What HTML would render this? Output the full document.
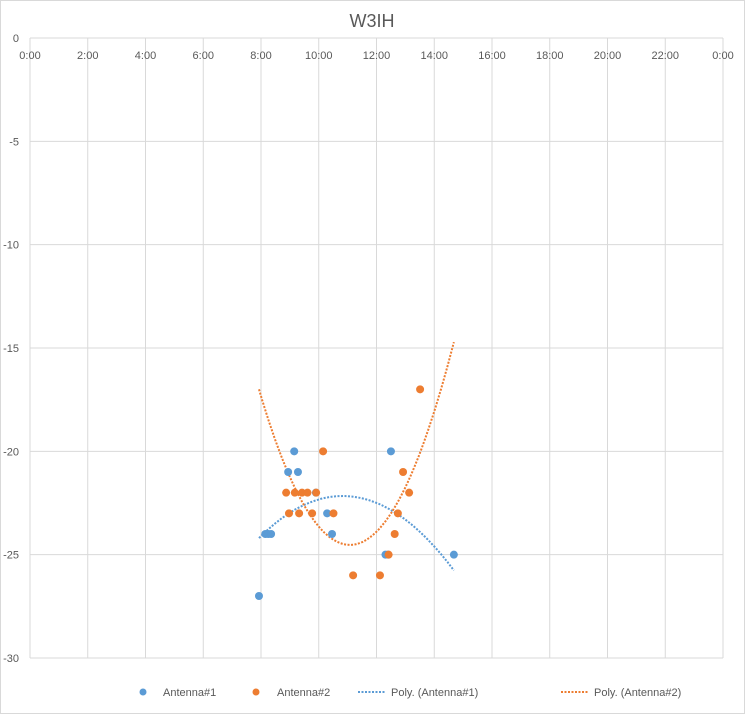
<!DOCTYPE html>
<html><head><meta charset="utf-8"><style>
body{margin:0;background:#fff;font-family:"Liberation Sans",sans-serif}
svg text{font-family:"Liberation Sans",sans-serif;fill:#595959}
</style></head><body>
<svg width="745" height="714">
<rect x="0.5" y="0.5" width="744" height="713" fill="#fff" stroke="#d9d9d9"/>
<text x="372" y="27" font-size="18" text-anchor="middle">W3IH</text>
<g id="grid"></g><g id="trend"></g><g id="pts"></g>
<g font-size="11">
<circle cx="143" cy="692" r="3.5" fill="#5b9bd5"/>
<text x="163" y="696">Antenna#1</text>
<circle cx="256" cy="692" r="3.5" fill="#ed7d31"/>
<text x="277" y="696">Antenna#2</text>
<line x1="358" y1="692" x2="385" y2="692" stroke="#5b9bd5" stroke-width="2" stroke-dasharray="2,1.5"/>
<text x="391" y="696">Poly. (Antenna#1)</text>
<line x1="561" y1="692" x2="588" y2="692" stroke="#ed7d31" stroke-width="2" stroke-dasharray="2,1.5"/>
<text x="594" y="696">Poly. (Antenna#2)</text>
</g>
</svg>
<script>
const xTicks=["0:00","2:00","4:00","6:00","8:00","10:00","12:00","14:00","16:00","18:00","20:00","22:00","0:00"];
const yTicks=[0,-5,-10,-15,-20,-25,-30];
const a1x=[9.15,8.94,9.28,10.29,10.46,8.15,8.25,8.35,7.93,12.50,12.31,12.40,14.68,9.9];
const a1y=[-20,-21,-21,-23,-24,-24,-24,-24,-27,-20,-25,-25,-25,-22];
const a2x=[13.51,10.15,12.92,8.87,9.17,9.42,9.61,9.91,13.13,8.97,9.32,9.77,10.51,12.74,12.63,12.42,11.19,12.12];
const a2y=[-17,-20,-21,-22,-22,-22,-22,-22,-22,-23,-23,-23,-23,-23,-24,-25,-26,-26];
const NS="http://www.w3.org/2000/svg";
const X0=30,X1=723,Y0=38,Y1=658;
const sx=h=>X0+h/24*(X1-X0), sy=v=>Y0+(0-v)/30*(Y1-Y0);
function mk(t,a,p){const e=document.createElementNS(NS,t);for(const k in a)e.setAttribute(k,a[k]);p.appendChild(e);return e;}
const g=document.getElementById('grid');
xTicks.forEach((t,i)=>{const x=sx(i*2);
 const l=mk('line',{x1:x,y1:Y0,x2:x,y2:Y1,stroke:'#d9d9d9'},g);
 
 
 const tx=mk('text',{x:x,y:59,'font-size':11,'text-anchor':'middle'},g);tx.textContent=t;
 
 
});
yTicks.forEach(v=>{const y=sy(v);
 const l=mk('line',{x1:X0,y1:y,x2:X1,y2:y,stroke:'#d9d9d9'},g);
 
 
 const tx=mk('text',{x:19,y:y+4,'font-size':11,'text-anchor':'end'},g);tx.textContent=v;
 
 
});
function fit2(xs,ys){let S=[0,0,0,0,0],T=[0,0,0];xs.forEach((x,i)=>{for(let k=0;k<5;k++)S[k]+=Math.pow(x,k);for(let k=0;k<3;k++)T[k]+=ys[i]*Math.pow(x,k);});
 const M=[[S[0],S[1],S[2],T[0]],[S[1],S[2],S[3],T[1]],[S[2],S[3],S[4],T[2]]];
 for(let i=0;i<3;i++){for(let j=i+1;j<3;j++){const f=M[j][i]/M[i][i];for(let k=i;k<4;k++)M[j][k]-=f*M[i][k];}}
 const c=[0,0,0];for(let i=2;i>=0;i--){let s=M[i][3];for(let k=i+1;k<3;k++)s-=M[i][k]*c[k];c[i]=s/M[i][i];}return c;}
const allx=a1x.concat(a2x),xmin=Math.min(...allx),xmax=Math.max(...allx);
const tr=document.getElementById('trend');
[[a1x,a1y,'#5b9bd5','trendline-antenna1'],[a2x,a2y,'#ed7d31','trendline-antenna2']].forEach(([xs,ys,c,n])=>{
 const k=fit2(xs,ys);let d='';for(let i=0;i<=60;i++){const x=xmin+(xmax-xmin)*i/60,y=k[0]+k[1]*x+k[2]*x*x;d+=(i?'L':'M')+sx(x).toFixed(1)+','+sy(y).toFixed(1);}
 const p=mk('path',{d:d,fill:'none',stroke:c,'stroke-width':2,'stroke-dasharray':'2,1.5'},tr);
 
 
});
const pg=document.getElementById('pts');
[[a1x,a1y,'#5b9bd5','point-antenna1'],[a2x,a2y,'#ed7d31','point-antenna2']].forEach(([xs,ys,c,n])=>{
 xs.forEach((x,i)=>{const e=mk('circle',{cx:sx(x),cy:sy(ys[i]),r:4,fill:c},pg);
 
 });
});
</script>
</body></html>
